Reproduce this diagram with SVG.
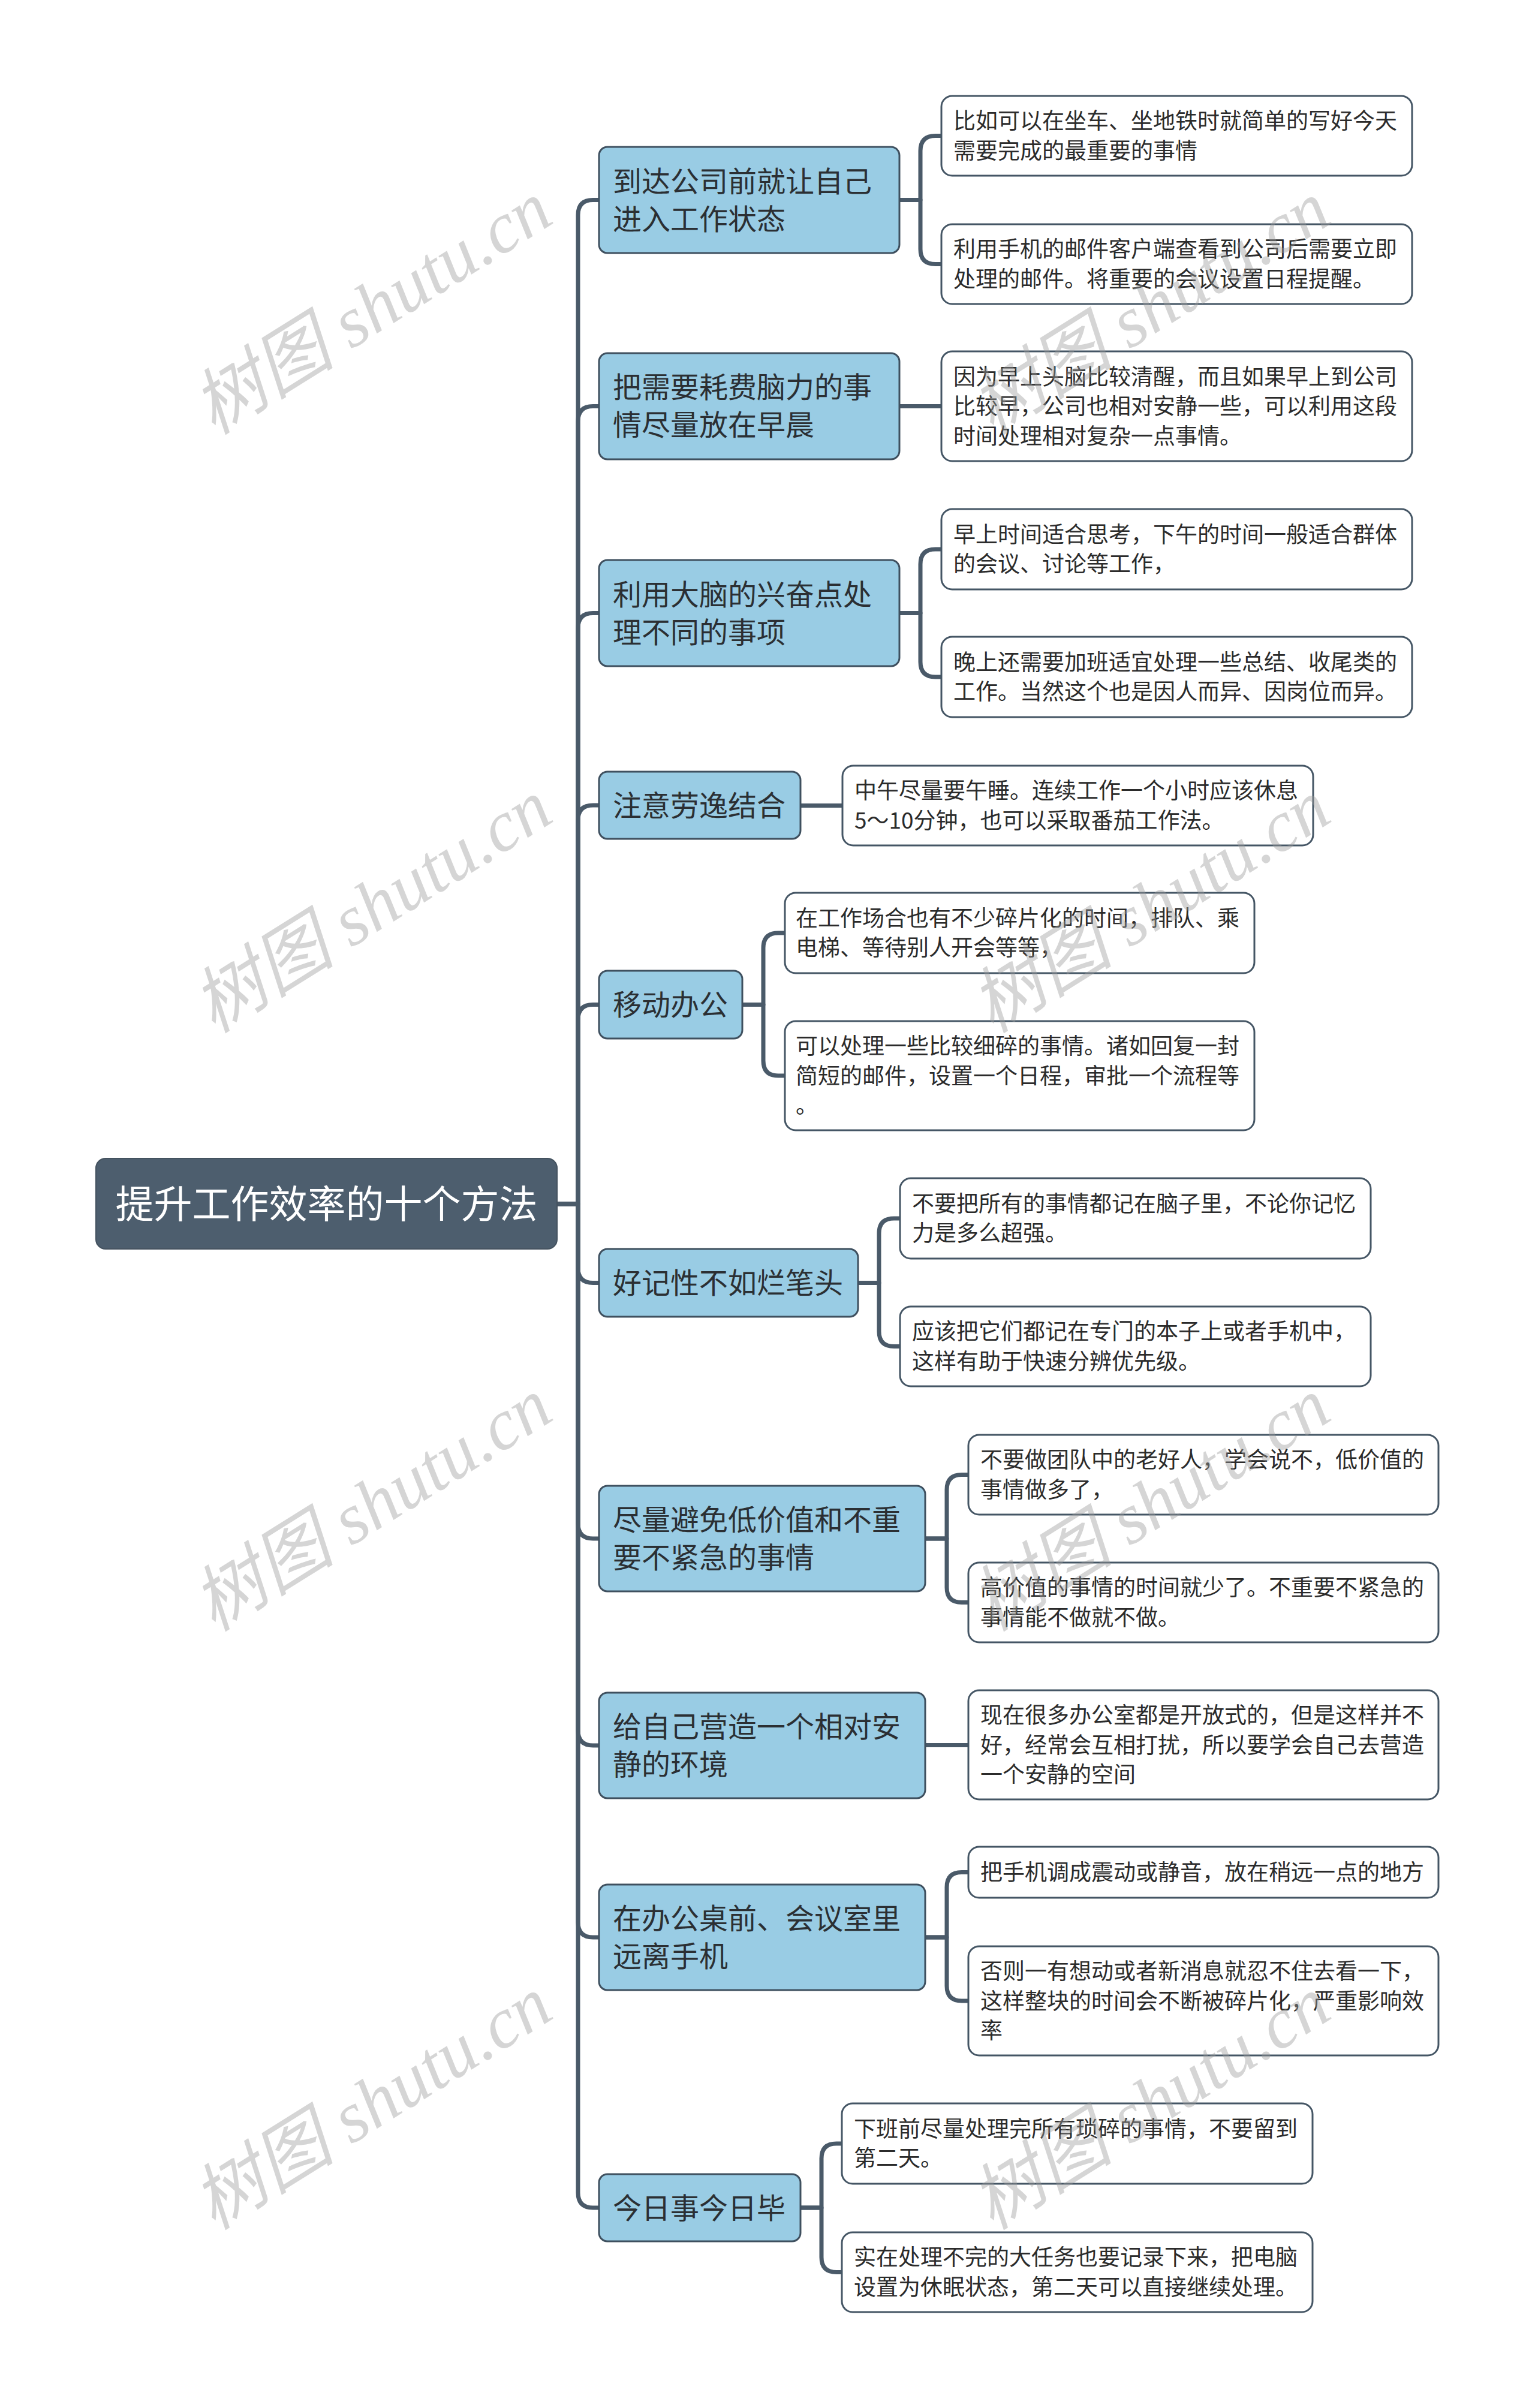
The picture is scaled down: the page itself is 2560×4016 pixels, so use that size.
<svg xmlns="http://www.w3.org/2000/svg" width="2560" height="4016" viewBox="0 0 2560 4016">
<style>
.bg{fill:#ffffff}
.root{fill:#4d5e6e;stroke:#44525f;stroke-width:2}
.l1{fill:#99cce4;stroke:#3f505f;stroke-width:3}
.l2{fill:#ffffff;stroke:#455665;stroke-width:3}
.conn path{fill:none;stroke:#4a5a69;stroke-width:7;stroke-linejoin:round}
.t0{font-family:"Noto Sans CJK SC","Noto Sans",sans-serif;font-size:64px;fill:#ffffff}
.t1{font-family:"Noto Sans CJK SC","Noto Sans",sans-serif;font-size:48px;fill:#2b2f33}
.t2{font-family:"Noto Sans CJK SC","Noto Sans",sans-serif;font-size:37px;fill:#2b2b2b}
.wm{font-family:"Liberation Serif","Noto Sans CJK SC",serif;font-style:italic;font-size:120px;fill:#9a9a9a;fill-opacity:0.42}
</style>
<rect class="bg" x="0" y="0" width="2560" height="4016"/>

<g id="connectors" class="conn">
  <path d="M929,2008 H964 V358.5 Q964,333.5 989,333.5 H999"/>
  <path d="M929,2008 H964 V702.5 Q964,677.5 989,677.5 H999"/>
  <path d="M929,2008 H964 V1047.5 Q964,1022.5 989,1022.5 H999"/>
  <path d="M929,2008 H964 V1368 Q964,1343 989,1343 H999"/>
  <path d="M929,2008 H964 V1700.5 Q964,1675.5 989,1675.5 H999"/>
  <path d="M929,2008 H964 V2114.5 Q964,2139.5 989,2139.5 H999"/>
  <path d="M929,2008 H964 V2541 Q964,2566 989,2566 H999"/>
  <path d="M929,2008 H964 V2886 Q964,2911 989,2911 H999"/>
  <path d="M929,2008 H964 V3206 Q964,3231 989,3231 H999"/>
  <path d="M929,2008 H964 V3657 Q964,3682 989,3682 H999"/>

  <path d="M1500,333.5 H1535 V251.5 Q1535,226.5 1560,226.5 H1570"/>
  <path d="M1500,333.5 H1535 V415.5 Q1535,440.5 1560,440.5 H1570"/>
  <path d="M1500,677.5 H1570"/>
  <path d="M1500,1022.5 H1535 V941 Q1535,916 1560,916 H1570"/>
  <path d="M1500,1022.5 H1535 V1104 Q1535,1129 1560,1129 H1570"/>
  <path d="M1335,1343.5 H1405"/>
  <path d="M1238,1675.5 H1273 V1581 Q1273,1556 1298,1556 H1309"/>
  <path d="M1238,1675.5 H1273 V1769 Q1273,1794 1298,1794 H1309"/>
  <path d="M1431,2139.5 H1466 V2057 Q1466,2032 1491,2032 H1501"/>
  <path d="M1431,2139.5 H1466 V2220.5 Q1466,2245.5 1491,2245.5 H1501"/>
  <path d="M1543,2566 H1579 V2484.5 Q1579,2459.5 1604,2459.5 H1615"/>
  <path d="M1543,2566 H1579 V2647.5 Q1579,2672.5 1604,2672.5 H1615"/>
  <path d="M1543,2910.5 H1615"/>
  <path d="M1543,3231 H1579 V3147.5 Q1579,3122.5 1604,3122.5 H1615"/>
  <path d="M1543,3231 H1579 V3312 Q1579,3337 1604,3337 H1615"/>
  <path d="M1335,3682 H1370 V3600 Q1370,3575 1395,3575 H1404"/>
  <path d="M1335,3682 H1370 V3764.5 Q1370,3789.5 1395,3789.5 H1404"/>
</g>

<g id="root">
  <rect class="root" x="160" y="1932" width="769" height="151" rx="16"/>
  <text class="t0" x="544.5" y="2031" text-anchor="middle">提升工作效率的十个方法</text>
</g>

<g id="n1">
  <rect class="l1" x="999" y="245" width="501" height="177" rx="14"/>
  <text class="t1" x="1022" y="319.5">到达公司前就让自己</text>
  <text class="t1" x="1022" y="382.5">进入工作状态</text>
</g>
<g id="n1a">
  <rect class="l2" x="1570" y="160" width="785" height="133" rx="18"/>
  <text class="t2" x="1590" y="215.25">比如可以在坐车、坐地铁时就简单的写好今天</text>
  <text class="t2" x="1590" y="264.75">需要完成的最重要的事情</text>
</g>
<g id="n1b">
  <rect class="l2" x="1570" y="374" width="785" height="133" rx="18"/>
  <text class="t2" x="1590" y="429.25">利用手机的邮件客户端查看到公司后需要立即</text>
  <text class="t2" x="1590" y="478.75">处理的邮件。将重要的会议设置日程提醒。</text>
</g>

<g id="n2">
  <rect class="l1" x="999" y="589" width="501" height="177" rx="14"/>
  <text class="t1" x="1022" y="663">把需要耗费脑力的事</text>
  <text class="t1" x="1022" y="726">情尽量放在早晨</text>
</g>
<g id="n2a">
  <rect class="l2" x="1570" y="586" width="785" height="183" rx="18"/>
  <text class="t2" x="1590" y="641.5">因为早上头脑比较清醒，而且如果早上到公司</text>
  <text class="t2" x="1590" y="691">比较早，公司也相对安静一些，可以利用这段</text>
  <text class="t2" x="1590" y="740.5">时间处理相对复杂一点事情。</text>
</g>

<g id="n3">
  <rect class="l1" x="999" y="934" width="501" height="177" rx="14"/>
  <text class="t1" x="1022" y="1008.5">利用大脑的兴奋点处</text>
  <text class="t1" x="1022" y="1071.5">理不同的事项</text>
</g>
<g id="n3a">
  <rect class="l2" x="1570" y="849" width="785" height="134" rx="18"/>
  <text class="t2" x="1590" y="904.75">早上时间适合思考，下午的时间一般适合群体</text>
  <text class="t2" x="1590" y="954.25">的会议、讨论等工作，</text>
</g>
<g id="n3b">
  <rect class="l2" x="1570" y="1062" width="785" height="134" rx="18"/>
  <text class="t2" x="1590" y="1117.75">晚上还需要加班适宜处理一些总结、收尾类的</text>
  <text class="t2" x="1590" y="1167.25">工作。当然这个也是因人而异、因岗位而异。</text>
</g>

<g id="n4">
  <rect class="l1" x="999" y="1287" width="336" height="112" rx="14"/>
  <text class="t1" x="1022" y="1360.5">注意劳逸结合</text>
</g>
<g id="n4a">
  <rect class="l2" x="1405" y="1277" width="785" height="133" rx="18"/>
  <text class="t2" x="1425" y="1332.25">中午尽量要午睡。连续工作一个小时应该休息</text>
  <text class="t2" x="1425" y="1381.75">5～10分钟，也可以采取番茄工作法。</text>
</g>

<g id="n5">
  <rect class="l1" x="999" y="1619" width="239" height="113" rx="14"/>
  <text class="t1" x="1022" y="1693">移动办公</text>
</g>
<g id="n5a">
  <rect class="l2" x="1309" y="1489" width="783" height="134" rx="18"/>
  <text class="t2" x="1327" y="1544.75">在工作场合也有不少碎片化的时间，排队、乘</text>
  <text class="t2" x="1327" y="1594.25">电梯、等待别人开会等等，</text>
</g>
<g id="n5b">
  <rect class="l2" x="1309" y="1703" width="783" height="182" rx="18"/>
  <text class="t2" x="1327" y="1758">可以处理一些比较细碎的事情。诸如回复一封</text>
  <text class="t2" x="1327" y="1807.5">简短的邮件，设置一个日程，审批一个流程等</text>
  <text class="t2" x="1327" y="1857">。</text>
</g>

<g id="n6">
  <rect class="l1" x="999" y="2083" width="432" height="113" rx="14"/>
  <text class="t1" x="1022" y="2157">好记性不如烂笔头</text>
</g>
<g id="n6a">
  <rect class="l2" x="1501" y="1965" width="785" height="134" rx="18"/>
  <text class="t2" x="1521" y="2020.75">不要把所有的事情都记在脑子里，不论你记忆</text>
  <text class="t2" x="1521" y="2070.25">力是多么超强。</text>
</g>
<g id="n6b">
  <rect class="l2" x="1501" y="2179" width="785" height="133" rx="18"/>
  <text class="t2" x="1521" y="2234.25">应该把它们都记在专门的本子上或者手机中，</text>
  <text class="t2" x="1521" y="2283.75">这样有助于快速分辨优先级。</text>
</g>

<g id="n7">
  <rect class="l1" x="999" y="2478" width="544" height="176" rx="14"/>
  <text class="t1" x="1022" y="2552">尽量避免低价值和不重</text>
  <text class="t1" x="1022" y="2615">要不紧急的事情</text>
</g>
<g id="n7a">
  <rect class="l2" x="1615" y="2393" width="784" height="133" rx="18"/>
  <text class="t2" x="1635" y="2448.25">不要做团队中的老好人，学会说不，低价值的</text>
  <text class="t2" x="1635" y="2497.75">事情做多了，</text>
</g>
<g id="n7b">
  <rect class="l2" x="1615" y="2606" width="784" height="133" rx="18"/>
  <text class="t2" x="1635" y="2661.25">高价值的事情的时间就少了。不重要不紧急的</text>
  <text class="t2" x="1635" y="2710.75">事情能不做就不做。</text>
</g>

<g id="n8">
  <rect class="l1" x="999" y="2823" width="544" height="176" rx="14"/>
  <text class="t1" x="1022" y="2897">给自己营造一个相对安</text>
  <text class="t1" x="1022" y="2960">静的环境</text>
</g>
<g id="n8a">
  <rect class="l2" x="1615" y="2819" width="784" height="182" rx="18"/>
  <text class="t2" x="1635" y="2874">现在很多办公室都是开放式的，但是这样并不</text>
  <text class="t2" x="1635" y="2923.5">好，经常会互相打扰，所以要学会自己去营造</text>
  <text class="t2" x="1635" y="2973">一个安静的空间</text>
</g>

<g id="n9">
  <rect class="l1" x="999" y="3143" width="544" height="176" rx="14"/>
  <text class="t1" x="1022" y="3217">在办公桌前、会议室里</text>
  <text class="t1" x="1022" y="3280">远离手机</text>
</g>
<g id="n9a">
  <rect class="l2" x="1615" y="3080" width="784" height="85" rx="18"/>
  <text class="t2" x="1635" y="3136">把手机调成震动或静音，放在稍远一点的地方</text>
</g>
<g id="n9b">
  <rect class="l2" x="1615" y="3246" width="784" height="182" rx="18"/>
  <text class="t2" x="1635" y="3301">否则一有想动或者新消息就忍不住去看一下，</text>
  <text class="t2" x="1635" y="3350.5">这样整块的时间会不断被碎片化，严重影响效</text>
  <text class="t2" x="1635" y="3400">率</text>
</g>

<g id="n10">
  <rect class="l1" x="999" y="3626" width="336" height="112" rx="14"/>
  <text class="t1" x="1022" y="3699.5">今日事今日毕</text>
</g>
<g id="n10a">
  <rect class="l2" x="1404" y="3508" width="785" height="134" rx="18"/>
  <text class="t2" x="1424" y="3563.75">下班前尽量处理完所有琐碎的事情，不要留到</text>
  <text class="t2" x="1424" y="3613.25">第二天。</text>
</g>
<g id="n10b">
  <rect class="l2" x="1404" y="3723" width="785" height="133" rx="18"/>
  <text class="t2" x="1424" y="3778.25">实在处理不完的大任务也要记录下来，把电脑</text>
  <text class="t2" x="1424" y="3827.75">设置为休眠状态，第二天可以直接继续处理。</text>
</g>

<g id="watermarks">
  <text class="wm" transform="translate(642,548) rotate(-32)" text-anchor="middle">树图 shutu.cn</text>
  <text class="wm" transform="translate(642,1546) rotate(-32)" text-anchor="middle">树图 shutu.cn</text>
  <text class="wm" transform="translate(642,2544) rotate(-32)" text-anchor="middle">树图 shutu.cn</text>
  <text class="wm" transform="translate(642,3542) rotate(-32)" text-anchor="middle">树图 shutu.cn</text>
  <text class="wm" transform="translate(1940,548) rotate(-32)" text-anchor="middle">树图 shutu.cn</text>
  <text class="wm" transform="translate(1940,1546) rotate(-32)" text-anchor="middle">树图 shutu.cn</text>
  <text class="wm" transform="translate(1940,2544) rotate(-32)" text-anchor="middle">树图 shutu.cn</text>
  <text class="wm" transform="translate(1940,3542) rotate(-32)" text-anchor="middle">树图 shutu.cn</text>
</g>
</svg>
